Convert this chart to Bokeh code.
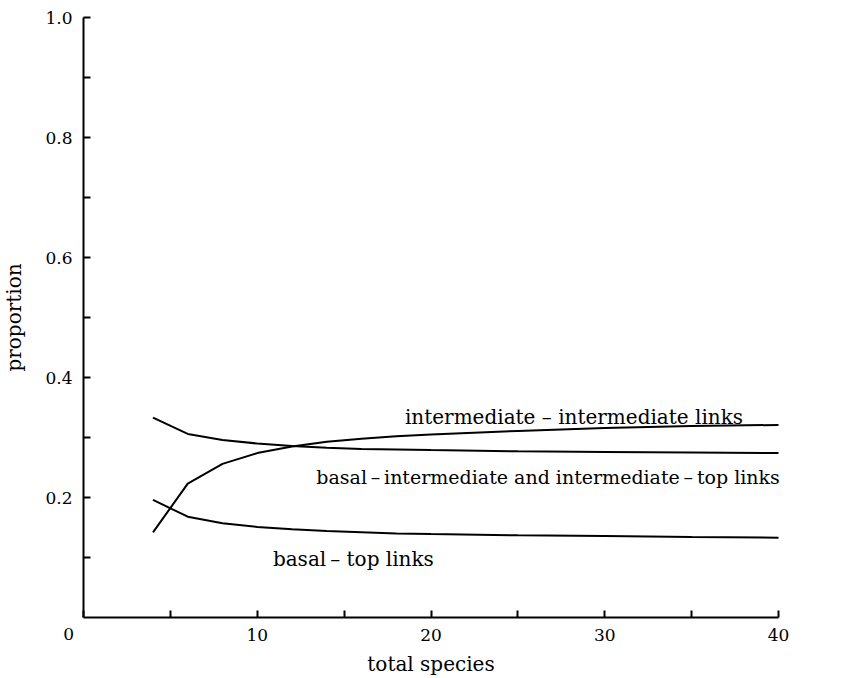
from bokeh.plotting import figure
from bokeh.models import Range1d, FixedTicker, Label
from bokeh.embed import file_html
from bokeh.resources import INLINE

# data
total_species = [4, 6, 8, 10, 12, 14, 16, 18, 20, 25, 30, 35, 40]
int_int = [0.142, 0.223, 0.256, 0.274, 0.285, 0.293, 0.298, 0.302, 0.305, 0.311, 0.316, 0.319, 0.321]
basal_int_top = [0.333, 0.306, 0.296, 0.290, 0.286, 0.283, 0.281, 0.280, 0.279, 0.277, 0.276, 0.275, 0.274]
basal_top = [0.196, 0.168, 0.157, 0.151, 0.147, 0.144, 0.142, 0.140, 0.139, 0.137, 0.136, 0.134, 0.133]

x_ticks = [0, 10, 20, 30, 40]
x_minor = [5, 15, 25, 35]
y_ticks = [0.2, 0.4, 0.6, 0.8, 1.0]
y_minor = [0.1, 0.3, 0.5, 0.7, 0.9]
y_tick_labels = ["0.2", "0.4", "0.6", "0.8", "1.0"]

FONT = "DejaVu Serif"
W, H = 848, 678
# pixel placement of the axes box within the canvas
X0_PX, X_PER_UNIT = 83.0, 17.375
Y0_PX, Y_PER_UNIT = 617.0, 600.0

p = figure(width=W, height=H, output_backend="svg", toolbar_location=None,
           x_range=Range1d(-X0_PX / X_PER_UNIT, (W - X0_PX) / X_PER_UNIT),
           y_range=Range1d((Y0_PX - H) / Y_PER_UNIT, Y0_PX / Y_PER_UNIT))
p.min_border = 0
p.min_border_left = 0
p.min_border_right = 0
p.min_border_top = 0
p.min_border_bottom = 0
p.outline_line_color = None
p.grid.visible = False
p.background_fill_color = "white"
p.border_fill_color = "white"

xa = p.xaxis[0]
ya = p.yaxis[0]
xa.fixed_location = 0
ya.fixed_location = 0
xa.bounds = (0, 40)
ya.bounds = (0, 1)

for ax in (xa, ya):
    ax.axis_line_width = 2
    ax.axis_line_color = "black"
    ax.major_tick_in = 7
    ax.major_tick_out = 0
    ax.minor_tick_in = 7
    ax.minor_tick_out = 0
    ax.major_tick_line_width = 2
    ax.minor_tick_line_width = 2
    ax.major_tick_line_color = "black"
    ax.minor_tick_line_color = "black"
    ax.major_label_text_font = FONT
    ax.major_label_text_font_size = "17px"
    ax.major_label_text_color = "black"
    ax.major_label_standoff = 11
    ax.axis_label_text_font = FONT
    ax.axis_label_text_font_size = "20px"
    ax.axis_label_text_font_style = "normal"
    ax.axis_label_text_color = "black"

xa.ticker = FixedTicker(ticks=x_ticks, minor_ticks=x_minor)
xa.major_label_overrides = {0: ""}
ya.ticker = FixedTicker(ticks=y_ticks, minor_ticks=y_minor)
ya.major_label_overrides = {t: s for t, s in zip(y_ticks, y_tick_labels)}

ya.axis_label = "proportion"
ya.axis_label_standoff = 16
xa.axis_label = "total species"
xa.axis_label_standoff = 8

for series in (int_int, basal_int_top, basal_top):
    p.line(total_species, series, line_color="black", line_width=2)

def add_label(x, y, text, size="20px", align="left", baseline="alphabetic"):
    p.add_layout(Label(x=x, y=y, text=text, text_font=FONT, text_font_size=size,
                       text_align=align, text_baseline=baseline, text_color="black"))

add_label(18.5, 0.334, "intermediate \u2013 intermediate links")
add_label(13.4, 0.234, "basal\u2009\u2013\u2009intermediate and intermediate\u2009\u2013\u2009top links", size="19px")
add_label(10.9, 0.098, "basal\u2009\u2013 top links")
add_label(-0.85, -0.027, "0", size="17px", align="center", baseline="middle")

open("out.html", "w").write(file_html(p, INLINE))
